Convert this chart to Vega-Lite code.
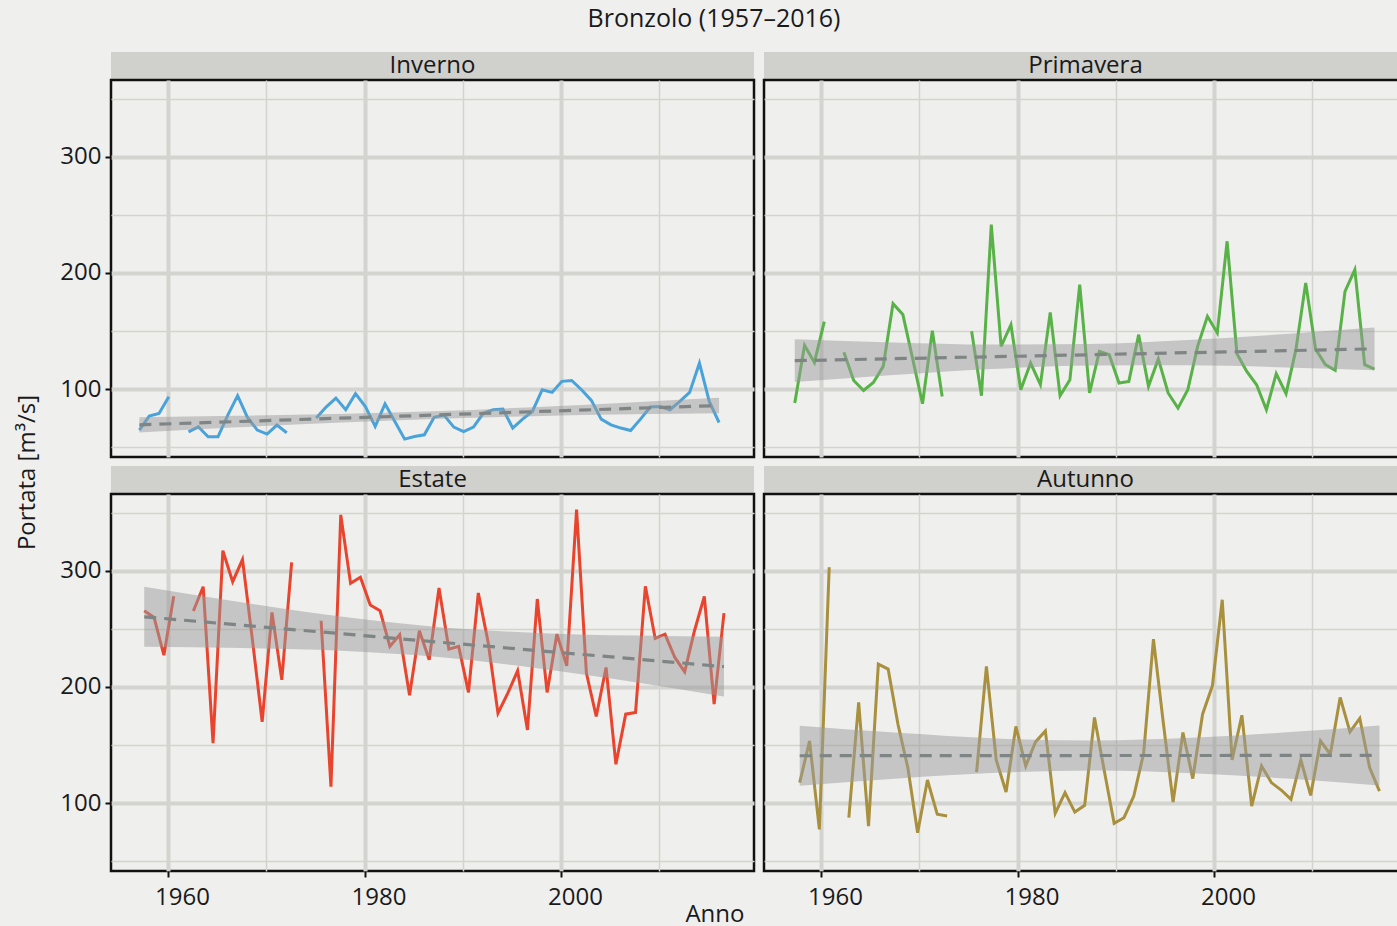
{
"$schema":"https://vega.github.io/schema/vega-lite/v6.json",
"background":"#efefed",
"padding":{"left":13,"top":7,"right":0,"bottom":40},
"title":{"text":"Bronzolo (1957–2016)","anchor":"middle","frame":"bounds","font":"Open Sans","fontSize":25,"fontWeight":"normal","color":"#1a1a1a","offset":20,"dx":3},
"config":{"axis":{"labelFont":"Open Sans","titleFont":"Open Sans","labelColor":"#1a1a1a","titleColor":"#1a1a1a","titleFontWeight":"normal","labelFontSize":24,"titleFontSize":24,"labelFlush":false,"labelOverlap":false}},
"datasets":{
"flow":[
{"s":"Inverno","d":"1957-02-01","v":64.7},{"s":"Inverno","d":"1958-02-01","v":76.7},{"s":"Inverno","d":"1959-02-01","v":79.0},{"s":"Inverno","d":"1960-02-01","v":93.4},{"s":"Inverno","d":"1961-02-01","v":null},{"s":"Inverno","d":"1962-02-01","v":63.2},{"s":"Inverno","d":"1963-02-01","v":67.5},{"s":"Inverno","d":"1964-02-01","v":58.9},{"s":"Inverno","d":"1965-02-01","v":58.9},{"s":"Inverno","d":"1966-02-01","v":77.6},{"s":"Inverno","d":"1967-02-01","v":94.3},{"s":"Inverno","d":"1968-02-01","v":75.6},{"s":"Inverno","d":"1969-02-01","v":64.7},{"s":"Inverno","d":"1970-02-01","v":61.2},{"s":"Inverno","d":"1971-02-01","v":69.0},{"s":"Inverno","d":"1972-02-01","v":62.4},{"s":"Inverno","d":"1973-02-01","v":null},{"s":"Inverno","d":"1974-02-01","v":null},{"s":"Inverno","d":"1975-02-01","v":75.0},{"s":"Inverno","d":"1976-02-01","v":84.5},{"s":"Inverno","d":"1977-02-01","v":92.2},{"s":"Inverno","d":"1978-02-01","v":82.2},{"s":"Inverno","d":"1979-02-01","v":96.0},{"s":"Inverno","d":"1980-02-01","v":85.0},{"s":"Inverno","d":"1981-02-01","v":67.8},{"s":"Inverno","d":"1982-02-01","v":87.3},{"s":"Inverno","d":"1983-02-01","v":72.1},{"s":"Inverno","d":"1984-02-01","v":56.9},{"s":"Inverno","d":"1985-02-01","v":59.1},{"s":"Inverno","d":"1986-02-01","v":60.6},{"s":"Inverno","d":"1987-02-01","v":75.6},{"s":"Inverno","d":"1988-02-01","v":77.6},{"s":"Inverno","d":"1989-02-01","v":67.2},{"s":"Inverno","d":"1990-02-01","v":63.4},{"s":"Inverno","d":"1991-02-01","v":67.2},{"s":"Inverno","d":"1992-02-01","v":79.1},{"s":"Inverno","d":"1993-02-01","v":82.2},{"s":"Inverno","d":"1994-02-01","v":82.8},{"s":"Inverno","d":"1995-02-01","v":66.4},{"s":"Inverno","d":"1996-02-01","v":74.1},{"s":"Inverno","d":"1997-02-01","v":80.7},{"s":"Inverno","d":"1998-02-01","v":99.4},{"s":"Inverno","d":"1999-02-01","v":97.1},{"s":"Inverno","d":"2000-02-01","v":106.6},{"s":"Inverno","d":"2001-02-01","v":107.4},{"s":"Inverno","d":"2002-02-01","v":99.4},{"s":"Inverno","d":"2003-02-01","v":90.2},{"s":"Inverno","d":"2004-02-01","v":74.1},{"s":"Inverno","d":"2005-02-01","v":69.2},{"s":"Inverno","d":"2006-02-01","v":66.4},{"s":"Inverno","d":"2007-02-01","v":64.3},{"s":"Inverno","d":"2008-02-01","v":74.1},{"s":"Inverno","d":"2009-02-01","v":84.5},{"s":"Inverno","d":"2010-02-01","v":85.0},{"s":"Inverno","d":"2011-02-01","v":82.2},{"s":"Inverno","d":"2012-02-01","v":89.3},{"s":"Inverno","d":"2013-02-01","v":97.1},{"s":"Inverno","d":"2014-02-01","v":122.4},{"s":"Inverno","d":"2015-02-01","v":89.3},{"s":"Inverno","d":"2016-02-01","v":71.2},
{"s":"Primavera","d":"1957-05-01","v":87.9},{"s":"Primavera","d":"1958-05-01","v":137.6},{"s":"Primavera","d":"1959-05-01","v":122.9},{"s":"Primavera","d":"1960-05-01","v":158.0},{"s":"Primavera","d":"1961-05-01","v":null},{"s":"Primavera","d":"1962-05-01","v":131.6},{"s":"Primavera","d":"1963-05-01","v":107.4},{"s":"Primavera","d":"1964-05-01","v":98.8},{"s":"Primavera","d":"1965-05-01","v":105.7},{"s":"Primavera","d":"1966-05-01","v":119.5},{"s":"Primavera","d":"1967-05-01","v":173.5},{"s":"Primavera","d":"1968-05-01","v":164.1},{"s":"Primavera","d":"1969-05-01","v":126.0},{"s":"Primavera","d":"1970-05-01","v":87.3},{"s":"Primavera","d":"1971-05-01","v":150.3},{"s":"Primavera","d":"1972-05-01","v":93.6},{"s":"Primavera","d":"1973-05-01","v":null},{"s":"Primavera","d":"1974-05-01","v":null},{"s":"Primavera","d":"1975-05-01","v":149.7},{"s":"Primavera","d":"1976-05-01","v":94.2},{"s":"Primavera","d":"1977-05-01","v":241.6},{"s":"Primavera","d":"1978-05-01","v":136.7},{"s":"Primavera","d":"1979-05-01","v":155.4},{"s":"Primavera","d":"1980-05-01","v":99.4},{"s":"Primavera","d":"1981-05-01","v":122.4},{"s":"Primavera","d":"1982-05-01","v":103.7},{"s":"Primavera","d":"1983-05-01","v":166.0},{"s":"Primavera","d":"1984-05-01","v":94.2},{"s":"Primavera","d":"1985-05-01","v":108.0},{"s":"Primavera","d":"1986-05-01","v":189.9},{"s":"Primavera","d":"1987-05-01","v":96.6},{"s":"Primavera","d":"1988-05-01","v":132.4},{"s":"Primavera","d":"1989-05-01","v":129.6},{"s":"Primavera","d":"1990-05-01","v":105.2},{"s":"Primavera","d":"1991-05-01","v":106.6},{"s":"Primavera","d":"1992-05-01","v":146.8},{"s":"Primavera","d":"1993-05-01","v":102.3},{"s":"Primavera","d":"1994-05-01","v":125.9},{"s":"Primavera","d":"1995-05-01","v":96.6},{"s":"Primavera","d":"1996-05-01","v":83.6},{"s":"Primavera","d":"1997-05-01","v":99.4},{"s":"Primavera","d":"1998-05-01","v":136.7},{"s":"Primavera","d":"1999-05-01","v":162.6},{"s":"Primavera","d":"2000-05-01","v":148.3},{"s":"Primavera","d":"2001-05-01","v":227.2},{"s":"Primavera","d":"2002-05-01","v":130.4},{"s":"Primavera","d":"2003-05-01","v":115.2},{"s":"Primavera","d":"2004-05-01","v":103.7},{"s":"Primavera","d":"2005-05-01","v":82.2},{"s":"Primavera","d":"2006-05-01","v":113.2},{"s":"Primavera","d":"2007-05-01","v":96.0},{"s":"Primavera","d":"2008-05-01","v":133.9},{"s":"Primavera","d":"2009-05-01","v":191.4},{"s":"Primavera","d":"2010-05-01","v":134.5},{"s":"Primavera","d":"2011-05-01","v":121.0},{"s":"Primavera","d":"2012-05-01","v":116.1},{"s":"Primavera","d":"2013-05-01","v":184.1},{"s":"Primavera","d":"2014-05-01","v":202.8},{"s":"Primavera","d":"2015-05-01","v":121.0},{"s":"Primavera","d":"2016-05-01","v":117.2},
{"s":"Estate","d":"1957-08-01","v":265.5},{"s":"Estate","d":"1958-08-01","v":259.8},{"s":"Estate","d":"1959-08-01","v":227.3},{"s":"Estate","d":"1960-08-01","v":277.9},{"s":"Estate","d":"1961-08-01","v":null},{"s":"Estate","d":"1962-08-01","v":265.3},{"s":"Estate","d":"1963-08-01","v":286.2},{"s":"Estate","d":"1964-08-01","v":151.5},{"s":"Estate","d":"1965-08-01","v":317.2},{"s":"Estate","d":"1966-08-01","v":290.5},{"s":"Estate","d":"1967-08-01","v":309.5},{"s":"Estate","d":"1968-08-01","v":241.1},{"s":"Estate","d":"1969-08-01","v":169.8},{"s":"Estate","d":"1970-08-01","v":264.1},{"s":"Estate","d":"1971-08-01","v":206.0},{"s":"Estate","d":"1972-08-01","v":307.2},{"s":"Estate","d":"1973-08-01","v":null},{"s":"Estate","d":"1974-08-01","v":null},{"s":"Estate","d":"1975-08-01","v":256.9},{"s":"Estate","d":"1976-08-01","v":114.1},{"s":"Estate","d":"1977-08-01","v":348.0},{"s":"Estate","d":"1978-08-01","v":289.1},{"s":"Estate","d":"1979-08-01","v":294.3},{"s":"Estate","d":"1980-08-01","v":270.4},{"s":"Estate","d":"1981-08-01","v":265.5},{"s":"Estate","d":"1982-08-01","v":234.8},{"s":"Estate","d":"1983-08-01","v":244.8},{"s":"Estate","d":"1984-08-01","v":192.8},{"s":"Estate","d":"1985-08-01","v":248.3},{"s":"Estate","d":"1986-08-01","v":223.3},{"s":"Estate","d":"1987-08-01","v":285.1},{"s":"Estate","d":"1988-08-01","v":232.5},{"s":"Estate","d":"1989-08-01","v":234.8},{"s":"Estate","d":"1990-08-01","v":195.2},{"s":"Estate","d":"1991-08-01","v":280.8},{"s":"Estate","d":"1992-08-01","v":238.3},{"s":"Estate","d":"1993-08-01","v":177.3},{"s":"Estate","d":"1994-08-01","v":194.6},{"s":"Estate","d":"1995-08-01","v":213.8},{"s":"Estate","d":"1996-08-01","v":162.9},{"s":"Estate","d":"1997-08-01","v":275.6},{"s":"Estate","d":"1998-08-01","v":195.2},{"s":"Estate","d":"1999-08-01","v":245.4},{"s":"Estate","d":"2000-08-01","v":218.1},{"s":"Estate","d":"2001-08-01","v":352.6},{"s":"Estate","d":"2002-08-01","v":211.8},{"s":"Estate","d":"2003-08-01","v":174.5},{"s":"Estate","d":"2004-08-01","v":216.7},{"s":"Estate","d":"2005-08-01","v":133.4},{"s":"Estate","d":"2006-08-01","v":176.5},{"s":"Estate","d":"2007-08-01","v":177.9},{"s":"Estate","d":"2008-08-01","v":286.6},{"s":"Estate","d":"2009-08-01","v":241.7},{"s":"Estate","d":"2010-08-01","v":245.4},{"s":"Estate","d":"2011-08-01","v":225.3},{"s":"Estate","d":"2012-08-01","v":212.9},{"s":"Estate","d":"2013-08-01","v":248.3},{"s":"Estate","d":"2014-08-01","v":277.9},{"s":"Estate","d":"2015-08-01","v":185.1},{"s":"Estate","d":"2016-08-01","v":263.5},
{"s":"Autunno","d":"1957-11-01","v":117.6},{"s":"Autunno","d":"1958-11-01","v":153.4},{"s":"Autunno","d":"1959-11-01","v":77.3},{"s":"Autunno","d":"1960-11-01","v":302.9},{"s":"Autunno","d":"1961-11-01","v":null},{"s":"Autunno","d":"1962-11-01","v":87.4},{"s":"Autunno","d":"1963-11-01","v":186.6},{"s":"Autunno","d":"1964-11-01","v":80.2},{"s":"Autunno","d":"1965-11-01","v":219.6},{"s":"Autunno","d":"1966-11-01","v":215.3},{"s":"Autunno","d":"1967-11-01","v":167.8},{"s":"Autunno","d":"1968-11-01","v":130.5},{"s":"Autunno","d":"1969-11-01","v":74.5},{"s":"Autunno","d":"1970-11-01","v":119.8},{"s":"Autunno","d":"1971-11-01","v":90.3},{"s":"Autunno","d":"1972-11-01","v":88.8},{"s":"Autunno","d":"1973-11-01","v":null},{"s":"Autunno","d":"1974-11-01","v":null},{"s":"Autunno","d":"1975-11-01","v":126.7},{"s":"Autunno","d":"1976-11-01","v":217.6},{"s":"Autunno","d":"1977-11-01","v":137.1},{"s":"Autunno","d":"1978-11-01","v":109.5},{"s":"Autunno","d":"1979-11-01","v":165.9},{"s":"Autunno","d":"1980-11-01","v":131.9},{"s":"Autunno","d":"1981-11-01","v":152.6},{"s":"Autunno","d":"1982-11-01","v":162.1},{"s":"Autunno","d":"1983-11-01","v":91.1},{"s":"Autunno","d":"1984-11-01","v":109.0},{"s":"Autunno","d":"1985-11-01","v":92.2},{"s":"Autunno","d":"1986-11-01","v":98.0},{"s":"Autunno","d":"1987-11-01","v":173.6},{"s":"Autunno","d":"1988-11-01","v":127.6},{"s":"Autunno","d":"1989-11-01","v":82.5},{"s":"Autunno","d":"1990-11-01","v":87.4},{"s":"Autunno","d":"1991-11-01","v":106.0},{"s":"Autunno","d":"1992-11-01","v":142.8},{"s":"Autunno","d":"1993-11-01","v":241.1},{"s":"Autunno","d":"1994-11-01","v":169.3},{"s":"Autunno","d":"1995-11-01","v":100.9},{"s":"Autunno","d":"1996-11-01","v":160.7},{"s":"Autunno","d":"1997-11-01","v":121.0},{"s":"Autunno","d":"1998-11-01","v":176.5},{"s":"Autunno","d":"1999-11-01","v":200.9},{"s":"Autunno","d":"2000-11-01","v":275.0},{"s":"Autunno","d":"2001-11-01","v":137.1},{"s":"Autunno","d":"2002-11-01","v":175.6},{"s":"Autunno","d":"2003-11-01","v":97.4},{"s":"Autunno","d":"2004-11-01","v":131.9},{"s":"Autunno","d":"2005-11-01","v":117.6},{"s":"Autunno","d":"2006-11-01","v":111.2},{"s":"Autunno","d":"2007-11-01","v":103.2},{"s":"Autunno","d":"2008-11-01","v":137.1},{"s":"Autunno","d":"2009-11-01","v":106.6},{"s":"Autunno","d":"2010-11-01","v":153.4},{"s":"Autunno","d":"2011-11-01","v":142.0},{"s":"Autunno","d":"2012-11-01","v":190.9},{"s":"Autunno","d":"2013-11-01","v":161.2},{"s":"Autunno","d":"2014-11-01","v":172.8},{"s":"Autunno","d":"2015-11-01","v":130.5},{"s":"Autunno","d":"2016-11-01","v":110.3}
],
"fit":[
{"s":"Inverno","d":"1957-02-01","lo":62.6,"hi":75.8,"fit":69.2},{"s":"Inverno","d":"1967-02-01","lo":67.0,"hi":77.0,"fit":72.0},{"s":"Inverno","d":"1977-02-01","lo":71.0,"hi":78.6,"fit":74.8},{"s":"Inverno","d":"1987-02-01","lo":74.3,"hi":80.9,"fit":77.6},{"s":"Inverno","d":"1997-02-01","lo":76.6,"hi":84.4,"fit":80.5},{"s":"Inverno","d":"2007-02-01","lo":78.2,"hi":88.4,"fit":83.3},{"s":"Inverno","d":"2016-02-01","lo":79.2,"hi":92.4,"fit":85.8},
{"s":"Primavera","d":"1957-05-01","lo":106.0,"hi":142.8,"fit":124.4},{"s":"Primavera","d":"1967-05-01","lo":112.1,"hi":140.1,"fit":126.1},{"s":"Primavera","d":"1977-05-01","lo":117.3,"hi":138.3,"fit":127.8},{"s":"Primavera","d":"1987-05-01","lo":120.3,"hi":138.7,"fit":129.5},{"s":"Primavera","d":"1997-05-01","lo":120.4,"hi":142.2,"fit":131.3},{"s":"Primavera","d":"2007-05-01","lo":118.6,"hi":147.4,"fit":133.0},{"s":"Primavera","d":"2016-05-01","lo":116.2,"hi":153.0,"fit":134.6},
{"s":"Estate","d":"1957-08-01","lo":234.5,"hi":286.1,"fit":260.3},{"s":"Estate","d":"1967-08-01","lo":233.4,"hi":272.6,"fit":253.0},{"s":"Estate","d":"1977-08-01","lo":231.1,"hi":260.5,"fit":245.8},{"s":"Estate","d":"1987-08-01","lo":225.6,"hi":251.4,"fit":238.5},{"s":"Estate","d":"1997-08-01","lo":216.0,"hi":246.4,"fit":231.2},{"s":"Estate","d":"2007-08-01","lo":203.9,"hi":244.1,"fit":224.0},{"s":"Estate","d":"2016-08-01","lo":191.6,"hi":243.2,"fit":217.4},
{"s":"Autunno","d":"1957-11-01","lo":114.9,"hi":166.5,"fit":140.7},{"s":"Autunno","d":"1967-11-01","lo":121.2,"hi":160.4,"fit":140.8},{"s":"Autunno","d":"1977-11-01","lo":126.1,"hi":155.5,"fit":140.8},{"s":"Autunno","d":"1987-11-01","lo":128.0,"hi":153.8,"fit":140.9},{"s":"Autunno","d":"1997-11-01","lo":125.7,"hi":156.1,"fit":140.9},{"s":"Autunno","d":"2007-11-01","lo":120.9,"hi":161.1,"fit":141.0},{"s":"Autunno","d":"2016-11-01","lo":115.2,"hi":166.8,"fit":141.0}
]
},
"columns":2,
"bounds":"flush",
"spacing":{"row":0,"column":10},
"concat":[
  {"width":643,"height":28,"view":{"fill":"#d0d0cc","stroke":null},"data":{"values":[{"label":"Inverno"}]},"mark":{"type":"text","font":"Open Sans","fontSize":24,"color":"#1a1a1a","baseline":"middle","align":"center"},"encoding":{"text":{"field":"label"}}},
  {"width":643,"height":28,"view":{"fill":"#d0d0cc","stroke":null},"data":{"values":[{"label":"Primavera"}]},"mark":{"type":"text","font":"Open Sans","fontSize":24,"color":"#1a1a1a","baseline":"middle","align":"center"},"encoding":{"text":{"field":"label"}}},
  {"width":643,"height":377,"view":{"stroke":"#111111","strokeWidth":2.5},"layer":[
   {"data":{"name":"flow"},"transform":[{"filter":"datum.s === 'Inverno'"}],"mark":{"type":"line","color":"#49a2da","strokeWidth":3,"invalid":"break-paths-show-domains"},
    "encoding":{
     "x":{"field":"d","type":"temporal","title":null,"scale":{"domain":[{"year":1954,"month":3,"date":14},{"year":2019,"month":8,"date":22}],"nice":false},"axis":{"values":[{"year":1960},{"year":1970},{"year":1980},{"year":1990},{"year":2000},{"year":2010}],"labels":false,"ticks":false,"domain":false,"grid":true,"gridColor":"#d3d3cf","gridWidth":{"condition":{"test":"year(datum.value) % 20 === 0","value":4},"value":1.5},"title":null}},
     "y":{"field":"v","type":"quantitative","scale":{"domain":[41.5,366],"nice":false,"zero":false},"axis":{"values":[50,100,150,200,250,300,350],"labelExpr":"datum.value % 100 === 0 ? datum.label : ''","tickOpacity":{"condition":{"test":"datum.value % 100 === 0","value":1},"value":0},"tickColor":"#111111","tickWidth":2,"tickSize":6,"labelPadding":4,"domain":false,"grid":true,"gridColor":"#d3d3cf","gridWidth":{"condition":{"test":"datum.value % 100 === 0","value":4},"value":1.5},"title":"Portata [m³/s]","titleX":-84,"titleY":392,"titleAngle":270,"titleAlign":"center","titleBaseline":"middle"}}}},
   {"data":{"name":"fit"},"transform":[{"filter":"datum.s === 'Inverno'"}],"mark":{"type":"area","color":"#9a9c9c","opacity":0.5,"interpolate":"monotone"},"encoding":{"x":{"field":"d","type":"temporal","title":null},"y":{"field":"lo","type":"quantitative"},"y2":{"field":"hi"}}},
   {"data":{"name":"fit"},"transform":[{"filter":"datum.s === 'Inverno'"}],"mark":{"type":"line","color":"#7f8585","strokeWidth":3.2,"strokeDash":[12,8]},"encoding":{"x":{"field":"d","type":"temporal","title":null},"y":{"field":"fit","type":"quantitative"}}}
  ]},
  {"width":643,"height":377,"view":{"stroke":"#111111","strokeWidth":2.5},"layer":[
   {"data":{"name":"flow"},"transform":[{"filter":"datum.s === 'Primavera'"}],"mark":{"type":"line","color":"#58b247","strokeWidth":3,"invalid":"break-paths-show-domains"},
    "encoding":{
     "x":{"field":"d","type":"temporal","title":null,"scale":{"domain":[{"year":1954,"month":3,"date":14},{"year":2019,"month":8,"date":22}],"nice":false},"axis":{"values":[{"year":1960},{"year":1970},{"year":1980},{"year":1990},{"year":2000},{"year":2010}],"labels":false,"ticks":false,"domain":false,"grid":true,"gridColor":"#d3d3cf","gridWidth":{"condition":{"test":"year(datum.value) % 20 === 0","value":4},"value":1.5},"title":null}},
     "y":{"field":"v","type":"quantitative","title":null,"scale":{"domain":[41.5,366],"nice":false,"zero":false},"axis":{"values":[50,100,150,200,250,300,350],"labels":false,"ticks":false,"domain":false,"grid":true,"gridColor":"#d3d3cf","gridWidth":{"condition":{"test":"datum.value % 100 === 0","value":4},"value":1.5},"title":null}}}},
   {"data":{"name":"fit"},"transform":[{"filter":"datum.s === 'Primavera'"}],"mark":{"type":"area","color":"#9a9c9c","opacity":0.5,"interpolate":"monotone"},"encoding":{"x":{"field":"d","type":"temporal","title":null},"y":{"field":"lo","type":"quantitative","title":null},"y2":{"field":"hi"}}},
   {"data":{"name":"fit"},"transform":[{"filter":"datum.s === 'Primavera'"}],"mark":{"type":"line","color":"#7f8585","strokeWidth":3.2,"strokeDash":[12,8]},"encoding":{"x":{"field":"d","type":"temporal","title":null},"y":{"field":"fit","type":"quantitative","title":null}}}
  ]},
  {"width":643,"height":9,"view":{"fill":null,"stroke":null},"data":{"values":[]},"mark":{"type":"text"},"encoding":{}},
  {"width":643,"height":9,"view":{"fill":null,"stroke":null},"data":{"values":[]},"mark":{"type":"text"},"encoding":{}},
  {"width":643,"height":28,"view":{"fill":"#d0d0cc","stroke":null},"data":{"values":[{"label":"Estate"}]},"mark":{"type":"text","font":"Open Sans","fontSize":24,"color":"#1a1a1a","baseline":"middle","align":"center"},"encoding":{"text":{"field":"label"}}},
  {"width":643,"height":28,"view":{"fill":"#d0d0cc","stroke":null},"data":{"values":[{"label":"Autunno"}]},"mark":{"type":"text","font":"Open Sans","fontSize":24,"color":"#1a1a1a","baseline":"middle","align":"center"},"encoding":{"text":{"field":"label"}}},
  {"width":643,"height":377,"view":{"stroke":"#111111","strokeWidth":2.5},"layer":[
   {"data":{"name":"flow"},"transform":[{"filter":"datum.s === 'Estate'"}],"mark":{"type":"line","color":"#e8442e","strokeWidth":3,"invalid":"break-paths-show-domains"},
    "encoding":{
     "x":{"field":"d","type":"temporal","scale":{"domain":[{"year":1954,"month":3,"date":14},{"year":2019,"month":8,"date":22}],"nice":false},"axis":{"values":[{"year":1960},{"year":1970},{"year":1980},{"year":1990},{"year":2000},{"year":2010}],"format":"%Y","labelExpr":"year(datum.value) % 20 === 0 ? datum.label : ''","labelOffset":14,"labelPadding":8,"tickOpacity":{"condition":{"test":"year(datum.value) % 20 === 0","value":1},"value":0},"tickColor":"#111111","tickWidth":2,"tickSize":6,"domain":false,"grid":true,"gridColor":"#d3d3cf","gridWidth":{"condition":{"test":"year(datum.value) % 20 === 0","value":4},"value":1.5},"title":"Anno","titleX":633,"titleY":43,"titleAlign":"right","titleBaseline":"middle"}},
     "y":{"field":"v","type":"quantitative","title":null,"scale":{"domain":[41.5,366],"nice":false,"zero":false},"axis":{"values":[50,100,150,200,250,300,350],"labelExpr":"datum.value % 100 === 0 ? datum.label : ''","tickOpacity":{"condition":{"test":"datum.value % 100 === 0","value":1},"value":0},"tickColor":"#111111","tickWidth":2,"tickSize":6,"labelPadding":4,"domain":false,"grid":true,"gridColor":"#d3d3cf","gridWidth":{"condition":{"test":"datum.value % 100 === 0","value":4},"value":1.5},"title":null}}}},
   {"data":{"name":"fit"},"transform":[{"filter":"datum.s === 'Estate'"}],"mark":{"type":"area","color":"#9a9c9c","opacity":0.5,"interpolate":"monotone"},"encoding":{"x":{"field":"d","type":"temporal"},"y":{"field":"lo","type":"quantitative","title":null},"y2":{"field":"hi"}}},
   {"data":{"name":"fit"},"transform":[{"filter":"datum.s === 'Estate'"}],"mark":{"type":"line","color":"#7f8585","strokeWidth":3.2,"strokeDash":[12,8]},"encoding":{"x":{"field":"d","type":"temporal"},"y":{"field":"fit","type":"quantitative","title":null}}}
  ]},
  {"width":643,"height":377,"view":{"stroke":"#111111","strokeWidth":2.5},"layer":[
   {"data":{"name":"flow"},"transform":[{"filter":"datum.s === 'Autunno'"}],"mark":{"type":"line","color":"#a8903e","strokeWidth":3,"invalid":"break-paths-show-domains"},
    "encoding":{
     "x":{"field":"d","type":"temporal","title":null,"scale":{"domain":[{"year":1954,"month":3,"date":14},{"year":2019,"month":8,"date":22}],"nice":false},"axis":{"values":[{"year":1960},{"year":1970},{"year":1980},{"year":1990},{"year":2000},{"year":2010}],"format":"%Y","labelExpr":"year(datum.value) % 20 === 0 ? datum.label : ''","labelOffset":14,"labelPadding":8,"tickOpacity":{"condition":{"test":"year(datum.value) % 20 === 0","value":1},"value":0},"tickColor":"#111111","tickWidth":2,"tickSize":6,"domain":false,"grid":true,"gridColor":"#d3d3cf","gridWidth":{"condition":{"test":"year(datum.value) % 20 === 0","value":4},"value":1.5},"title":null}},
     "y":{"field":"v","type":"quantitative","title":null,"scale":{"domain":[41.5,366],"nice":false,"zero":false},"axis":{"values":[50,100,150,200,250,300,350],"labels":false,"ticks":false,"domain":false,"grid":true,"gridColor":"#d3d3cf","gridWidth":{"condition":{"test":"datum.value % 100 === 0","value":4},"value":1.5},"title":null}}}},
   {"data":{"name":"fit"},"transform":[{"filter":"datum.s === 'Autunno'"}],"mark":{"type":"area","color":"#9a9c9c","opacity":0.5,"interpolate":"monotone"},"encoding":{"x":{"field":"d","type":"temporal","title":null},"y":{"field":"lo","type":"quantitative","title":null},"y2":{"field":"hi"}}},
   {"data":{"name":"fit"},"transform":[{"filter":"datum.s === 'Autunno'"}],"mark":{"type":"line","color":"#7f8585","strokeWidth":3.2,"strokeDash":[12,8]},"encoding":{"x":{"field":"d","type":"temporal","title":null},"y":{"field":"fit","type":"quantitative","title":null}}}
  ]}
]
}
